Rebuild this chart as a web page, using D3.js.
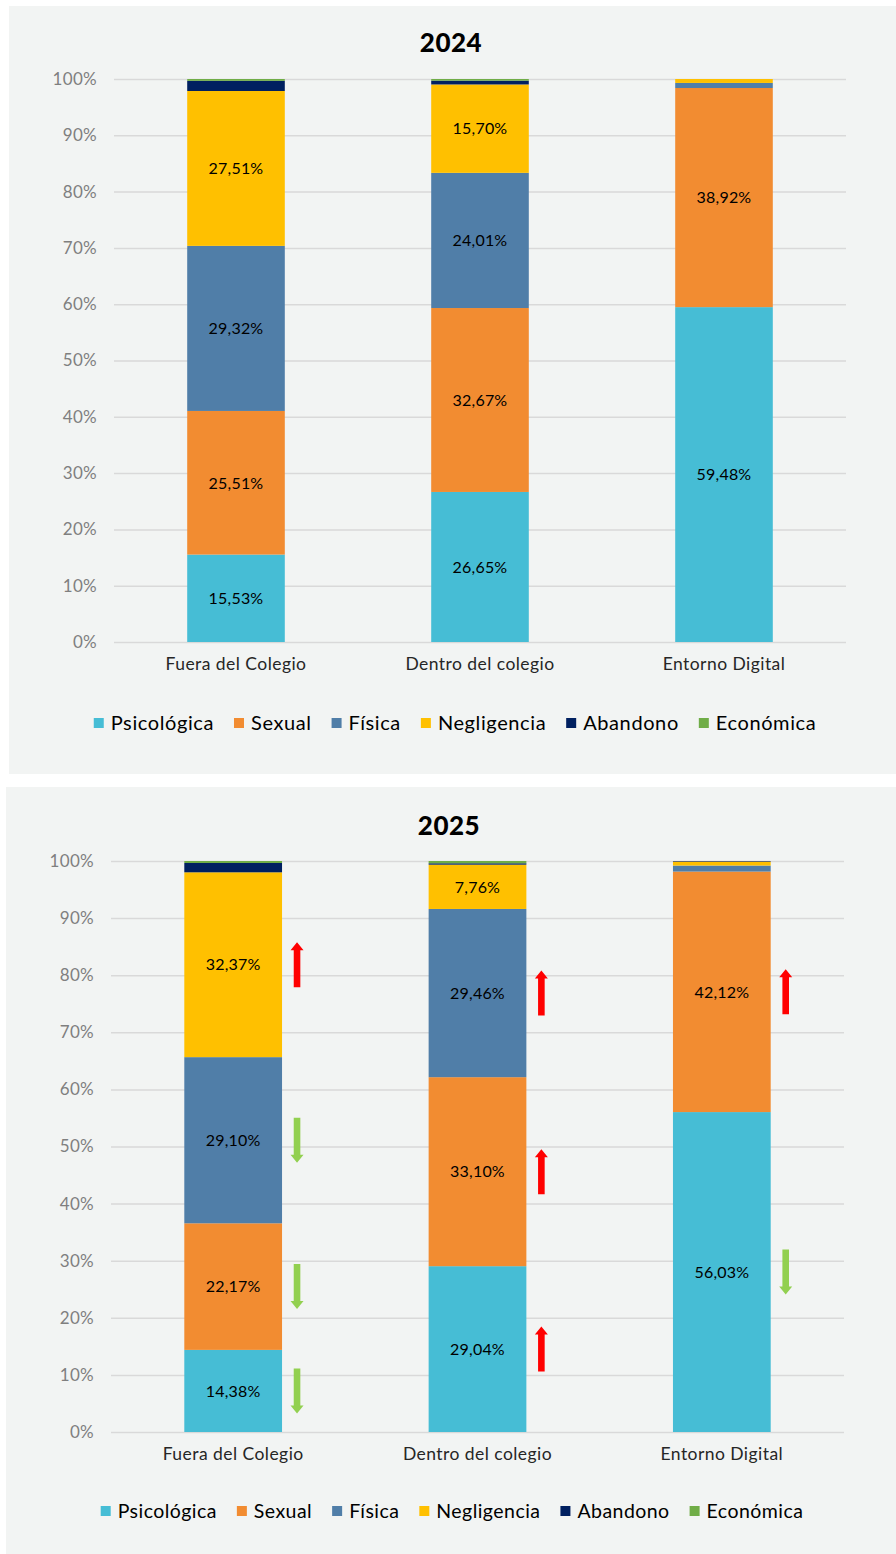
<!DOCTYPE html>
<html>
<head>
<meta charset="utf-8">
<script src="https://cdn.jsdelivr.net/npm/d3@7"></script>
<style>
  html, body { margin: 0; padding: 0; background: #ffffff; }
  svg { display: block; font-family: Lato, "Open Sans", sans-serif; }
</style>
</head>
<body>
<svg id="chart" width="896" height="1554"></svg>
<script>
const categories = ["Fuera del Colegio", "Dentro del colegio", "Entorno Digital"];
const seriesNames = ["Psicológica", "Sexual", "Física", "Negligencia", "Abandono", "Económica"];
const seriesColors = ["#46bdd5", "#f28c31", "#507ea8", "#ffc000", "#002060", "#70ad47"];
const yTicks = [0, 10, 20, 30, 40, 50, 60, 70, 80, 90, 100];

// 2024 (percent per category)
const psico2024 = [15.53, 26.65, 59.48];
const sexual2024 = [25.51, 32.67, 38.92];
const fisica2024 = [29.32, 24.01, 0.9];
const neglig2024 = [27.51, 15.7, 0.7];
const aband2024 = [1.8, 0.67, 0];
const econ2024 = [0.33, 0.3, 0];

// 2025
const psico2025 = [14.38, 29.04, 56.03];
const sexual2025 = [22.17, 33.1, 42.12];
const fisica2025 = [29.1, 29.46, 1.05];
const neglig2025 = [32.37, 7.76, 0.7];
const aband2025 = [1.63, 0.24, 0.1];
const econ2025 = [0.35, 0.4, 0];

// change markers drawn beside the 2025 bars
const arrows2025 = [
  { category: "Fuera del Colegio", series: "Negligencia", dir: "up" },
  { category: "Fuera del Colegio", series: "Física", dir: "down" },
  { category: "Fuera del Colegio", series: "Sexual", dir: "down" },
  { category: "Fuera del Colegio", series: "Psicológica", dir: "down" },
  { category: "Dentro del colegio", series: "Física", dir: "up" },
  { category: "Dentro del colegio", series: "Sexual", dir: "up" },
  { category: "Dentro del colegio", series: "Psicológica", dir: "up" },
  { category: "Entorno Digital", series: "Sexual", dir: "up" },
  { category: "Entorno Digital", series: "Psicológica", dir: "down" },
];

const buildRows = (lists) =>
  categories.map((cat, i) => {
    const row = { category: cat };
    seriesNames.forEach((s, j) => (row[s] = lists[j][i]));
    return row;
  });

const rows2024 = buildRows([psico2024, sexual2024, fisica2024, neglig2024, aband2024, econ2024]);
const rows2025 = buildRows([psico2025, sexual2025, fisica2025, neglig2025, aband2025, econ2025]);

const color = d3.scaleOrdinal().domain(seriesNames).range(seriesColors);
const fmt = (v) => v.toFixed(2).replace(".", ",") + "%";

const svg = d3.select("#chart");

const drawPanel = (cfg) => {
  const g = svg.append("g");
  //panel background
  g.append("rect")
    .attr("x", cfg.box.x)
    .attr("y", cfg.box.y)
    .attr("width", cfg.box.w)
    .attr("height", cfg.box.h)
    .attr("fill", "#f2f4f3");

  g.append("text")
    .attr("x", cfg.titleX)
    .attr("y", cfg.titleY)
    .attr("text-anchor", "middle")
    .attr("font-size", 26)
    .attr("font-weight", 900)
    .attr("letter-spacing", 0.5)
    .attr("fill", "#000")
    .text(cfg.title);

  const x = d3
    .scaleBand()
    .domain(categories)
    .range([cfg.left, cfg.right])
    .paddingInner(0.6)
    .paddingOuter(0.3);
  const y = d3.scaleLinear().domain([0, 100]).range([cfg.bottom, cfg.top]);

  //grid lines
  const yAxis = d3
    .axisLeft(y)
    .tickValues(yTicks)
    .tickSize(-(cfg.right - cfg.left))
    .tickFormat((d) => d + "%");
  const yg = g
    .append("g")
    .attr("transform", `translate(${cfg.left},0)`)
    .call(yAxis);
  yg.select(".domain").remove();
  yg.selectAll(".tick line").attr("stroke", "#d9d9d9").attr("stroke-width", 1.5);
  yg.selectAll(".tick text")
    .attr("x", -17)
    .attr("fill", "#7f7f7f")
    .attr("font-size", 17)
    .attr("letter-spacing", 0.3)
    .attr("font-family", "Lato, sans-serif");

  const xAxis = d3.axisBottom(x).tickSize(0);
  const xg = g
    .append("g")
    .attr("transform", `translate(0,${cfg.bottom})`)
    .call(xAxis);
  xg.select(".domain").remove();
  xg.selectAll(".tick text")
    .attr("y", 16)
    .attr("fill", "#262626")
    .attr("font-size", 17.5)
    .attr("letter-spacing", 0.45)
    .attr("font-family", "Lato, sans-serif");

  const stacked = d3.stack().keys(seriesNames)(cfg.rows);

  const layers = g
    .selectAll(".layer")
    .data(stacked)
    .enter()
    .append("g")
    .attr("class", "layer")
    .attr("fill", (d) => color(d.key));

  layers
    .selectAll("rect")
    .data((d) => d)
    .enter()
    .append("rect")
    .attr("x", (d) => x(d.data.category))
    .attr("y", (d) => y(d[1]))
    .attr("width", x.bandwidth())
    .attr("height", (d) => Math.max(0, y(d[0]) - y(d[1])));

  //value labels for the bigger segments
  layers
    .selectAll("text")
    .data((d) => d.filter((p) => p[1] - p[0] > 5).map((p) => ({ p, key: d.key })))
    .enter()
    .append("text")
    .attr("x", (d) => x(d.p.data.category) + x.bandwidth() / 2)
    .attr("y", (d) => y((d.p[0] + d.p[1]) / 2))
    .attr("dy", "0.36em")
    .attr("text-anchor", "middle")
    .attr("font-size", 16)
    .attr("letter-spacing", 0.2)
    .attr("fill", "#000")
    .text((d) => fmt(d.p[1] - d.p[0]));

  //arrows
  if (cfg.arrows) {
    const arrowLen = 45;
    const arrowG = g.append("g");
    cfg.arrows.forEach((a) => {
      const layer = stacked.find((s) => s.key === a.series);
      const seg = layer.find((p) => p.data.category === a.category);
      const cx = x(a.category) + x.bandwidth() + 15;
      const cy = y((seg[0] + seg[1]) / 2);
      const top = cy - arrowLen / 2;
      const bot = cy + arrowLen / 2;
      const head = 8;
      const sw = 3.3;
      const hw = 6.5;
      let pts;
      if (a.dir === "up") {
        pts = [
          [cx, top], [cx + hw, top + head], [cx + sw, top + head], [cx + sw, bot],
          [cx - sw, bot], [cx - sw, top + head], [cx - hw, top + head],
        ];
      } else {
        pts = [
          [cx, bot], [cx + hw, bot - head], [cx + sw, bot - head], [cx + sw, top],
          [cx - sw, top], [cx - sw, bot - head], [cx - hw, bot - head],
        ];
      }
      arrowG
        .append("path")
        .attr("d", d3.line()(pts) + "Z")
        .attr("fill", a.dir === "up" ? "#ff0000" : "#92d050");
    });
  }

  //legend
  const legend = g.append("g");
  let cursor = 0;
  seriesNames.forEach((s) => {
    const item = legend.append("g").attr("transform", `translate(${cursor},0)`);
    item.append("rect")
      .attr("x", 0)
      .attr("y", -5)
      .attr("width", 10)
      .attr("height", 10)
      .attr("fill", color(s));
    const t = item.append("text")
      .attr("x", 17)
      .attr("dy", "0.35em")
      .attr("font-size", cfg.legendFont)
      .attr("letter-spacing", cfg.legendSpacing)
      .attr("fill", "#000")
      .text(s);
    cursor += 17 + t.node().getComputedTextLength() + 20;
  });
  const total = cursor - 20;
  legend.attr("transform", `translate(${cfg.legendCx - total / 2},${cfg.legendY})`);
};

drawPanel({
  box: { x: 9, y: 6, w: 887, h: 768 },
  title: "2024",
  titleX: 451,
  titleY: 52,
  left: 114,
  right: 846,
  top: 79,
  bottom: 642,
  rows: rows2024,
  legendCx: 455,
  legendY: 723,
  legendFont: 20,
  legendSpacing: 0.6,
});

drawPanel({
  box: { x: 6, y: 787, w: 890, h: 767 },
  title: "2025",
  titleX: 449,
  titleY: 835,
  left: 111,
  right: 844,
  top: 861,
  bottom: 1432,
  rows: rows2025,
  arrows: arrows2025,
  legendCx: 452,
  legendY: 1511,
  legendFont: 19.5,
  legendSpacing: 0.45,
});
</script>
</body>
</html>
